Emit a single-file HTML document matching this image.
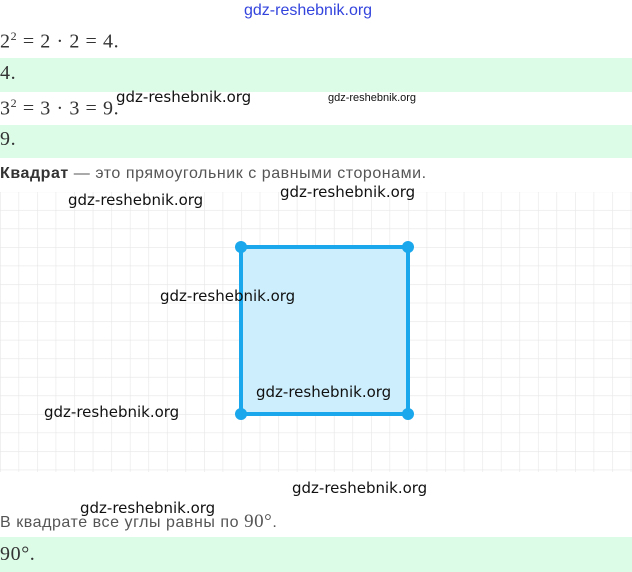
<!DOCTYPE html>
<html><head><meta charset="utf-8"><style>
body{margin:0;width:632px;height:572px;overflow:hidden;background:#fff;position:relative;font-family:"Liberation Sans",sans-serif}
.a{position:absolute;white-space:nowrap}
.m{font-family:"Liberation Serif",serif;font-size:20px;color:#333;letter-spacing:0.6px}
.g{position:absolute;left:0;width:632px;background:#dcfce8}
.w{font-family:"DejaVu Sans","Liberation Sans",sans-serif;font-size:15px;color:#111}
.t{font-size:16px;color:#555;letter-spacing:0.55px}
</style></head><body>
<div class="g" style="top:58px;height:34px"></div>
<div class="g" style="top:125px;height:33px"></div>
<div class="g" style="top:537px;height:35px"></div>
<svg class="a" style="left:0;top:0" width="632" height="572">
<defs><pattern id="p" x="0" y="191.4" width="18.55" height="18.55" patternUnits="userSpaceOnUse"><path d="M0 0H18.55M0 0V18.55" stroke="#e6e6e6" stroke-width="1.2" fill="none"/></pattern></defs>
<rect x="0" y="192" width="632" height="280" fill="url(#p)"/>
<rect x="241" y="247" width="167" height="167" fill="#cdeefc" stroke="#1aa7ec" stroke-width="4"/>
<g fill="#1aa7ec"><circle cx="241" cy="247" r="6"/><circle cx="408" cy="247" r="6"/><circle cx="241" cy="414" r="6"/><circle cx="408" cy="414" r="6"/></g>
</svg>
<div class="a m" style="left:0;top:29px">2<sup style="font-size:12px">2</sup> = 2 · 2 = 4.</div>
<div class="a m" style="left:0;top:62px">4.</div>
<div class="a m" style="left:0;top:96px">3<sup style="font-size:12px">2</sup> = 3 · 3 = 9.</div>
<div class="a m" style="left:0;top:128px">9.</div>
<div class="a t" style="left:0;top:165px"><b style="color:#333">Квадрат</b> — это прямоугольник с равными сторонами.</div>
<div class="a t" style="left:0;top:511px">В квадрате все углы равны по <span style="font-family:'Liberation Serif',serif;font-size:19px">90°</span>.</div>
<div class="a m" style="left:0;top:543px">90°.</div>
<div class="a" style="left:244px;top:2px;font-size:16px;color:#3344dd">gdz-reshebnik.org</div>
<div class="a w" style="left:116px;top:88px">gdz-reshebnik.org</div>
<div class="a" style="left:328px;top:92px;font-size:11px;color:#111">gdz-reshebnik.org</div>
<div class="a w" style="left:280px;top:183px">gdz-reshebnik.org</div>
<div class="a w" style="left:68px;top:191px">gdz-reshebnik.org</div>
<div class="a w" style="left:160px;top:287px">gdz-reshebnik.org</div>
<div class="a w" style="left:256px;top:383px">gdz-reshebnik.org</div>
<div class="a w" style="left:44px;top:403px">gdz-reshebnik.org</div>
<div class="a w" style="left:292px;top:479px">gdz-reshebnik.org</div>
<div class="a w" style="left:80px;top:499px">gdz-reshebnik.org</div>
</body></html>
